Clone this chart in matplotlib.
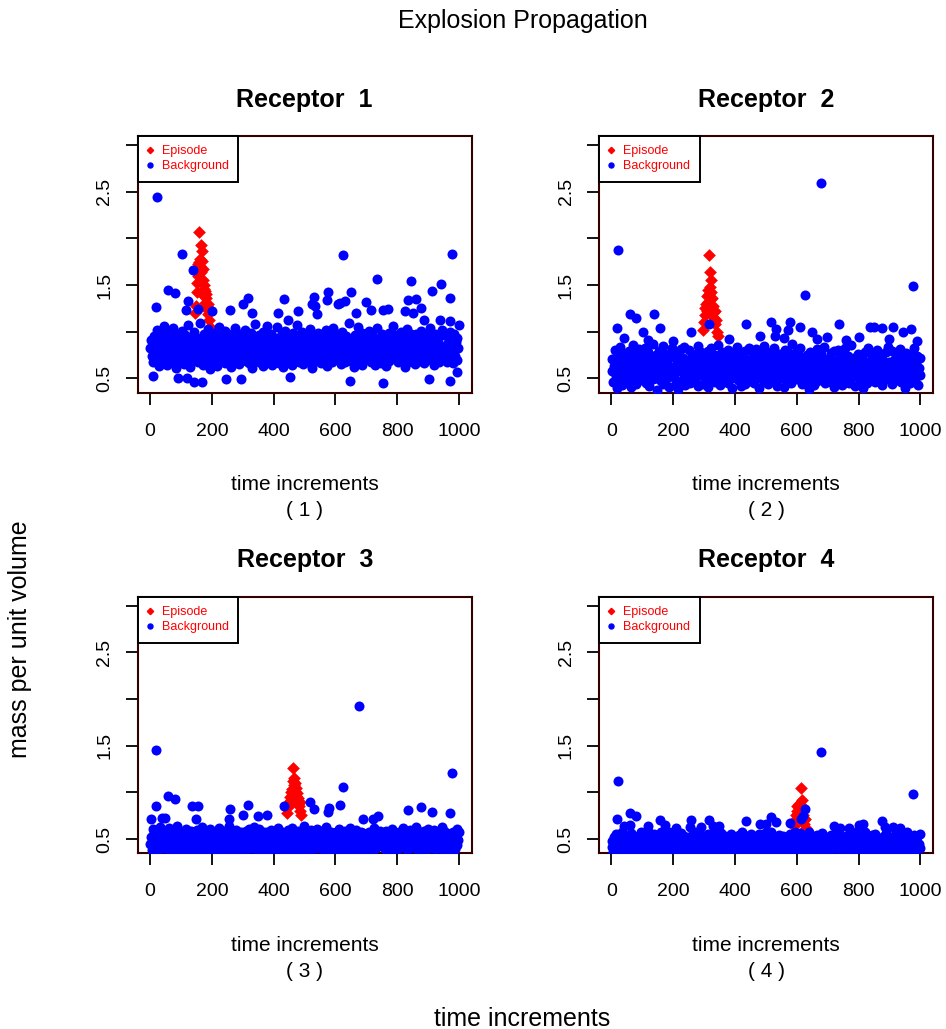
import numpy as np
import matplotlib
matplotlib.use('Agg')
import matplotlib.pyplot as plt
from matplotlib.lines import Line2D

plt.rcParams['font.family'] = ['Liberation Sans', 'DejaVu Sans']

# ---------------- data ----------------
receptors = ['1', '2', '3', '4']

# episode (red) points: time, value
ep1_t = [146, 149, 151, 153, 155, 156, 158, 159, 160, 162, 163, 165, 166, 167, 169, 170,
         171, 173, 174, 176, 177, 178, 180, 181, 183, 184, 186, 188, 190, 192, 194]
ep1_v = [1.20, 1.28, 1.43, 1.52, 1.60, 1.72, 2.07, 1.75, 1.66, 1.78, 1.70, 1.64, 1.93, 1.76,
         1.86, 1.67, 1.55, 1.50, 1.46, 1.38, 1.44, 1.31, 1.36, 1.40, 1.27, 1.24, 1.30, 1.19,
         1.22, 1.13, 1.05]
ep2_t = [298, 300, 302, 304, 306, 308, 310, 312, 314, 316, 317, 318, 320, 321, 323, 324,
         326, 327, 329, 330, 332, 334, 336, 338, 341, 344]
ep2_v = [1.02, 1.10, 1.18, 1.25, 1.30, 1.22, 1.38, 1.45, 1.32, 1.82, 1.40, 1.64, 1.48, 1.55,
         1.35, 1.42, 1.28, 1.36, 1.20, 1.27, 1.15, 1.22, 1.08, 1.12, 1.00, 0.95]
ep3_t = [444, 447, 449, 451, 453, 455, 457, 459, 460, 462, 464, 465, 467, 468, 470, 471,
         473, 474, 476, 478, 480, 482, 484, 486, 489]
ep3_v = [0.78, 0.84, 0.90, 0.86, 0.95, 0.92, 1.00, 1.04, 0.97, 1.12, 1.26, 1.08, 1.15, 1.02,
         1.10, 0.96, 1.05, 0.93, 0.99, 0.88, 0.94, 0.85, 0.90, 0.80, 0.76]
ep4_t = [592, 595, 598, 600, 602, 604, 606, 608, 610, 612, 614, 615, 617, 619, 621, 623,
         625, 628, 631]
ep4_v = [0.64, 0.70, 0.76, 0.80, 0.85, 0.78, 0.88, 0.83, 0.74, 0.86, 1.05, 0.80, 0.92, 0.76,
         0.84, 0.70, 0.66, 0.72, 0.62]

# background band (blue), hundredths, in time order across 1..1000
bg1 = [82, 91, 74, 67, 88, 95, 79, 71, 85, 102, 76, 63, 90, 84, 69, 97, 81, 73, 106, 78,
       87, 64, 93, 80, 72, 99, 68, 86, 77, 104, 83, 70, 94, 61, 89, 75, 98, 66, 84, 92,
       79, 101, 73, 88, 65, 96, 82, 71, 107, 76, 90, 62, 85, 94, 78, 69, 100, 81, 74, 87,
       93, 67, 83, 76, 109, 72, 89, 80, 64, 97, 86, 75, 91, 68, 103, 79, 84, 60, 95, 77,
       70, 88, 81, 99, 74, 85, 63, 92, 78, 105, 82, 69, 96, 87, 73, 90, 66, 101, 80, 75,
       86, 94, 71, 79, 62, 98, 83, 76, 89, 67, 104, 80, 73, 92, 85, 65, 97, 78, 88, 72,
       84, 75, 102, 69, 91, 80, 95, 66, 87, 74, 99, 81, 61, 93, 77, 108, 83, 70, 90, 79,
       68, 96, 82, 74, 88, 63, 100, 85, 72, 94, 79, 106, 67, 89, 81, 76, 98, 64, 86, 91,
       77, 83, 93, 71, 105, 80, 66, 90, 84, 73, 97, 62, 88, 79, 101, 75, 92, 69, 85, 81,
       95, 72, 86, 64, 99, 78, 91, 83, 70, 107, 76, 89, 68, 94, 82, 74, 100, 65, 87, 80,
       73, 89, 80, 97, 67, 84, 103, 76, 92, 61, 85, 78, 96, 71, 88, 82, 69, 99, 74, 93,
       88, 66, 94, 81, 75, 90, 79, 102, 63, 86, 72, 97, 83, 77, 91, 68, 104, 80, 70, 95,
       81, 98, 70, 87, 76, 93, 65, 84, 100, 74, 89, 80, 67, 95, 78, 86, 73, 109, 82, 69,
       92, 77, 84, 62, 96, 79, 88, 73, 105, 83, 68, 91, 76, 99, 64, 85, 80, 94, 71, 87,
       75, 90, 101, 78, 83, 67, 97, 86, 72, 93, 81, 64, 89, 104, 77, 70, 92, 84, 66, 98,
       85, 70, 79, 95, 63, 88, 82, 76, 99, 69, 94, 87, 74, 80, 106, 72, 90, 78, 96, 83,
       67, 93, 86, 74, 100, 81, 71, 95, 84, 62, 89, 77, 103, 68, 91, 79, 85, 97, 73, 88,
       90, 78, 65, 98, 82, 73, 92, 80, 69, 87, 101, 75, 84, 96, 66, 93, 81, 71, 99, 86,
       79, 104, 83, 70, 91, 76, 86, 64, 97, 82, 73, 90, 88, 67, 95, 80, 77, 102, 84, 72,
       83, 71, 96, 87, 68, 94, 78, 100, 75, 85, 92, 66, 81, 98, 74, 89, 70, 93, 82, 107]
bg2 = [58, 71, 46, 63, 80, 52, 67, 40, 75, 61, 49, 84, 56, 69, 43, 77, 60, 53, 72, 65,
       47, 66, 79, 55, 62, 41, 73, 58, 86, 50, 68, 44, 76, 63, 54, 81, 48, 70, 59, 64,
       74, 51, 61, 83, 45, 67, 57, 78, 42, 65, 72, 53, 60, 87, 49, 69, 56, 75, 38, 62,
       66, 79, 48, 59, 71, 54, 85, 44, 63, 70, 57, 76, 50, 64, 41, 73, 61, 52, 82, 55,
       53, 62, 77, 46, 68, 60, 39, 74, 58, 81, 47, 65, 72, 55, 84, 43, 67, 59, 70, 51,
       80, 45, 64, 57, 73, 50, 69, 62, 48, 76, 56, 85, 42, 66, 61, 78, 54, 71, 44, 63,
       60, 74, 52, 68, 41, 79, 55, 65, 83, 49, 62, 71, 58, 46, 75, 64, 51, 86, 57, 67,
       43, 69, 61, 78, 56, 64, 47, 72, 59, 53, 80, 45, 68, 63, 50, 77, 40, 66, 74, 58,
       71, 55, 84, 48, 63, 57, 76, 42, 67, 61, 73, 52, 79, 44, 65, 59, 70, 54, 82, 47,
       62, 50, 66, 75, 45, 70, 58, 81, 53, 64, 40, 68, 56, 77, 49, 72, 61, 85, 46, 65,
       57, 78, 44, 61, 69, 53, 63, 48, 74, 59, 83, 51, 66, 71, 42, 60, 76, 55, 64, 50,
       68, 59, 72, 41, 80, 56, 65, 49, 62, 77, 54, 70, 45, 87, 58, 63, 52, 73, 60, 79,
       49, 64, 57, 83, 51, 73, 44, 68, 60, 55, 71, 62, 48, 75, 66, 39, 78, 53, 69, 61,
       75, 43, 70, 58, 65, 47, 81, 56, 72, 50, 63, 76, 59, 52, 84, 67, 45, 62, 55, 71,
       54, 67, 60, 46, 77, 62, 52, 79, 41, 69, 57, 64, 80, 47, 61, 73, 56, 68, 43, 74,
       63, 82, 48, 71, 55, 66, 74, 45, 60, 86, 50, 67, 53, 72, 58, 42, 70, 63, 76, 52,
       70, 47, 65, 59, 73, 40, 61, 78, 54, 66, 45, 82, 57, 63, 69, 51, 75, 48, 64, 58,
       46, 72, 53, 80, 62, 57, 68, 50, 76, 43, 71, 60, 65, 55, 78, 62, 49, 84, 59, 67,
       61, 56, 79, 44, 67, 70, 51, 64, 58, 73, 48, 69, 54, 81, 46, 66, 72, 57, 63, 40,
       77, 64, 52, 68, 58, 45, 75, 62, 49, 70, 60, 83, 47, 65, 56, 74, 43, 61, 72, 54]
bg3 = [45, 52, 38, 61, 47, 56, 41, 49, 58, 36, 53, 44, 63, 48, 40, 55, 50, 43, 59, 46,
       51, 39, 57, 46, 62, 42, 54, 48, 37, 60, 45, 52, 40, 56, 49, 64, 43, 51, 38, 55,
       42, 58, 47, 53, 35, 50, 61, 44, 56, 48, 39, 54, 46, 59, 41, 52, 57, 36, 50, 47,
       60, 44, 51, 40, 55, 49, 37, 63, 45, 52, 58, 42, 48, 35, 57, 46, 53, 61, 43, 50,
       48, 55, 36, 58, 43, 51, 46, 40, 54, 62, 47, 38, 56, 50, 44, 59, 41, 49, 53, 45,
       39, 50, 64, 45, 52, 41, 57, 48, 36, 55, 43, 60, 47, 53, 38, 51, 46, 58, 42, 54,
       56, 43, 49, 37, 59, 47, 53, 42, 61, 46, 50, 55, 40, 48, 63, 44, 52, 39, 57, 49,
       47, 61, 41, 54, 46, 38, 52, 58, 44, 50, 36, 57, 49, 42, 55, 47, 60, 45, 51, 37,
       53, 46, 57, 50, 40, 62, 45, 49, 55, 39, 58, 44, 52, 47, 41, 54, 48, 35, 60, 43,
       41, 54, 48, 62, 45, 53, 39, 56, 47, 51, 44, 59, 37, 55, 49, 43, 57, 50, 46, 64,
       50, 38, 55, 44, 58, 47, 51, 36, 60, 46, 53, 41, 56, 49, 45, 61, 40, 52, 48, 57,
       44, 59, 46, 52, 37, 55, 49, 63, 42, 57, 48, 39, 54, 45, 58, 43, 50, 36, 53, 47,
       57, 42, 50, 46, 61, 40, 56, 48, 53, 35, 51, 59, 44, 49, 52, 38, 55, 47, 62, 45,
       46, 53, 40, 57, 49, 44, 60, 37, 51, 55, 42, 48, 58, 45, 39, 56, 50, 54, 41, 52,
       38, 49, 58, 43, 53, 47, 36, 55, 48, 62, 45, 51, 40, 57, 46, 53, 44, 59, 49, 42,
       55, 45, 51, 39, 47, 59, 43, 52, 40, 56, 50, 37, 61, 48, 54, 42, 57, 46, 36, 51,
       43, 57, 47, 54, 41, 50, 62, 45, 58, 44, 49, 53, 38, 55, 47, 60, 41, 52, 56, 48,
       52, 40, 56, 49, 63, 46, 38, 53, 45, 57, 41, 55, 48, 43, 59, 50, 37, 54, 47, 61,
       49, 54, 42, 58, 44, 52, 47, 60, 39, 51, 56, 46, 53, 40, 48, 57, 45, 63, 50, 38,
       59, 47, 53, 41, 56, 45, 50, 36, 55, 48, 42, 58, 46, 52, 39, 54, 61, 44, 49, 57]
bg4 = [41, 48, 36, 52, 44, 39, 55, 42, 47, 37, 50, 45, 40, 58, 43, 38, 49, 46, 35, 53,
       46, 37, 51, 42, 39, 56, 44, 48, 36, 53, 41, 47, 38, 45, 52, 40, 49, 43, 57, 39,
       38, 54, 43, 47, 35, 50, 41, 59, 45, 39, 48, 36, 52, 44, 42, 55, 37, 46, 50, 41,
       52, 40, 46, 38, 57, 43, 49, 37, 54, 45, 40, 51, 47, 36, 58, 42, 48, 39, 44, 53,
       43, 49, 39, 55, 41, 47, 36, 50, 44, 42, 56, 38, 46, 53, 40, 45, 51, 37, 48, 42,
       36, 45, 53, 40, 48, 38, 52, 46, 41, 57, 43, 49, 35, 47, 44, 54, 39, 50, 42, 46,
       49, 42, 38, 51, 45, 55, 40, 44, 37, 48, 52, 41, 46, 39, 59, 43, 50, 36, 47, 54,
       44, 56, 41, 46, 36, 49, 43, 53, 40, 45, 38, 51, 47, 42, 55, 37, 44, 48, 52, 39,
       40, 47, 52, 37, 54, 42, 46, 39, 58, 44, 50, 36, 48, 45, 41, 53, 38, 49, 43, 47,
       55, 39, 44, 50, 41, 46, 37, 52, 43, 48, 35, 55, 40, 47, 51, 42, 45, 38, 56, 44,
       42, 51, 37, 48, 44, 40, 57, 45, 38, 53, 46, 42, 50, 36, 47, 43, 54, 41, 39, 49,
       47, 38, 53, 43, 50, 36, 45, 49, 42, 39, 55, 47, 37, 52, 44, 40, 48, 58, 45, 41,
       37, 50, 45, 41, 56, 47, 39, 44, 51, 46, 40, 53, 43, 48, 36, 57, 42, 45, 50, 38,
       51, 43, 48, 39, 45, 54, 42, 37, 47, 50, 44, 38, 56, 41, 49, 45, 35, 52, 46, 43,
       45, 36, 42, 54, 38, 49, 53, 41, 46, 43, 57, 40, 45, 48, 39, 51, 44, 37, 53, 47,
       39, 48, 51, 44, 42, 37, 46, 55, 40, 52, 38, 47, 43, 50, 45, 41, 58, 46, 36, 49,
       48, 41, 36, 49, 53, 44, 40, 47, 57, 42, 46, 51, 39, 44, 48, 36, 43, 54, 41, 50,
       43, 55, 46, 38, 47, 51, 45, 39, 44, 49, 37, 42, 53, 46, 40, 56, 47, 38, 52, 44,
       50, 40, 44, 52, 36, 43, 48, 56, 41, 38, 51, 45, 47, 40, 54, 42, 39, 49, 46, 37,
       38, 46, 57, 41, 49, 45, 39, 43, 50, 47, 42, 54, 36, 48, 44, 52, 41, 45, 40, 55]

# scattered background points away from the band: time, value
sc1_t = [22, 102, 138, 59, 81, 18, 122, 116, 156, 626, 976, 736, 846, 943, 911, 971, 650,
         577, 529, 572, 435, 316, 300, 615, 631, 699, 836, 861, 876, 714, 755, 771, 825,
         480, 415, 448, 259, 200, 329, 666, 852, 885, 937, 971, 523, 534, 540, 609,
         8, 90, 119, 143, 169, 245, 295, 453, 647, 755, 903, 971, 993]
sc1_v = [2.44, 1.83, 1.66, 1.45, 1.41, 1.26, 1.33, 1.23, 1.24, 1.82, 1.83, 1.56, 1.54, 1.51,
         1.44, 1.36, 1.43, 1.43, 1.37, 1.34, 1.35, 1.36, 1.30, 1.31, 1.33, 1.32, 1.34, 1.35,
         1.25, 1.23, 1.23, 1.24, 1.22, 1.22, 1.20, 1.13, 1.23, 1.22, 1.20, 1.20, 1.20, 1.12,
         1.13, 1.11, 1.30, 1.27, 1.19, 1.30,
         0.53, 0.50, 0.50, 0.46, 0.46, 0.49, 0.49, 0.51, 0.47, 0.45, 0.49, 0.47, 0.57]
sc2_t = [22, 678, 626, 976, 59, 81, 139, 18, 156, 436, 518, 534, 579, 572, 609, 649, 737,
         838, 849, 876, 911, 944, 971, 259, 103, 666, 698, 315, 482, 531,
         40, 120, 200, 380, 560, 760, 800, 900, 990]
sc2_v = [1.875, 2.59, 1.39, 1.49, 1.19, 1.15, 1.19, 1.04, 1.04, 1.08, 1.10, 1.03, 1.10, 1.02,
         1.05, 1.00, 1.08, 1.05, 1.05, 1.04, 1.05, 1.00, 1.03, 1.00, 1.00, 0.92, 0.94, 1.08,
         0.95, 0.95,
         0.93, 0.91, 0.90, 0.92, 0.93, 0.91, 0.94, 0.92, 0.90]
sc3_t = [19, 677, 976, 626, 59, 81, 18, 137, 156, 259, 316, 435, 518, 532, 580, 577, 615,
         876, 836, 911, 971, 2, 38, 49, 149, 257, 300, 350, 380, 737, 720, 690]
sc3_v = [1.45, 1.93, 1.21, 1.06, 0.96, 0.93, 0.85, 0.85, 0.85, 0.82, 0.86, 0.85, 0.90, 0.82,
         0.83, 0.79, 0.86, 0.84, 0.81, 0.79, 0.78, 0.71, 0.73, 0.73, 0.71, 0.72, 0.76, 0.75,
         0.76, 0.75, 0.71, 0.72]
sc4_t = [22, 678, 976, 59, 81, 18, 156, 259, 315, 436, 518, 534, 579, 876, 628, 614, 620,
         40, 60, 120, 175, 210, 255, 290, 330, 350, 480, 500, 720, 740, 770, 800, 815, 885,
         910, 935]
sc4_v = [1.125, 1.43, 0.985, 0.78, 0.75, 0.71, 0.70, 0.70, 0.70, 0.69, 0.74, 0.68, 0.67, 0.69,
         0.82, 0.71, 0.75,
         0.64, 0.65, 0.64, 0.65, 0.62, 0.63, 0.63, 0.64, 0.64, 0.66, 0.66, 0.64, 0.62, 0.62,
         0.65, 0.66, 0.63, 0.63, 0.62]

episodes = [(ep1_t, ep1_v), (ep2_t, ep2_v), (ep3_t, ep3_v), (ep4_t, ep4_v)]
bands = [bg1, bg2, bg3, bg4]
scatters = [(sc1_t, sc1_v), (sc2_t, sc2_v), (sc3_t, sc3_v), (sc4_t, sc4_v)]

# ---------------- figure ----------------
W, H = 946, 1029
fig = plt.figure(figsize=(W / 100, H / 100), dpi=100)


def fy(py):
    return 1 - py / H


box_col = '#330000'
lefts = [137.7, 599.0, 137.7, 599.0]
tops = [136.0, 136.0, 596.7, 596.7]
aw, ah = 334.0, 256.7

for i in range(4):
    L, T = lefts[i], tops[i]
    ax = fig.add_axes([L / W, fy(T + ah), aw / W, ah / H])
    et, ev = episodes[i]
    ax.scatter(et, ev, marker='D', s=42, color='red', linewidths=0, zorder=2)
    band = np.array(bands[i]) / 100
    tb = np.linspace(1, 1000, len(band))
    ax.scatter(tb, band, marker='o', s=52, color='blue', linewidths=0, zorder=3)
    st, sv = scatters[i]
    ax.scatter(st, sv, marker='o', s=52, color='blue', linewidths=0, zorder=3)

    ax.set_xlim(-40, 1041)
    ax.set_ylim(0.346, 3.097)
    ax.set_xticks([0, 200, 400, 600, 800, 1000])
    ax.set_yticks([0.5, 1.0, 1.5, 2.0, 2.5, 3.0])
    ax.set_yticklabels(['0.5', '', '1.5', '', '2.5', ''], rotation=90, va='center')
    ax.tick_params(axis='both', length=8.6, width=1.3, labelsize=14, color='black')
    ax.tick_params(axis='x', pad=13.0)
    ax.tick_params(axis='y', pad=9.0)
    for sp in ax.spines.values():
        sp.set_color(box_col)
        sp.set_linewidth(1.5)

    handles = [Line2D([], [], marker='D', color='red', linestyle='none', markersize=3.2),
               Line2D([], [], marker='o', color='blue', linestyle='none', markersize=3.6)]
    leg = ax.legend(handles, ['Episode', 'Background'], loc='upper left',
                    bbox_to_anchor=(0, 1), borderaxespad=0, fontsize=9, labelcolor='red',
                    fancybox=False, framealpha=1, edgecolor='black', borderpad=0.75,
                    labelspacing=0.25, handlelength=0.4, handletextpad=0.8)
    leg.get_frame().set_linewidth(1.4)
    leg.set_zorder(5)

    cx = (L + aw / 2) / W
    fig.text(cx, fy(T - 29.3), 'Receptor  ' + receptors[i], ha='center', va='baseline',
             fontsize=18, fontweight='bold')
    fig.text(cx, fy(T + 354), 'time increments', ha='center', va='baseline', fontsize=15)
    fig.text(cx, fy(T + 380), '( ' + receptors[i] + ' )', ha='center', va='baseline',
             fontsize=15)

fig.text(523 / W, fy(28), 'Explosion Propagation', ha='center', va='baseline', fontsize=18)
fig.text(522 / W, fy(1026), 'time increments', ha='center', va='baseline', fontsize=18)
fig.text(20 / W, fy(520), 'mass per unit volume', ha='right', va='center', rotation=90,
         rotation_mode='anchor', fontsize=18)

fig.savefig('out.png', dpi=100)
